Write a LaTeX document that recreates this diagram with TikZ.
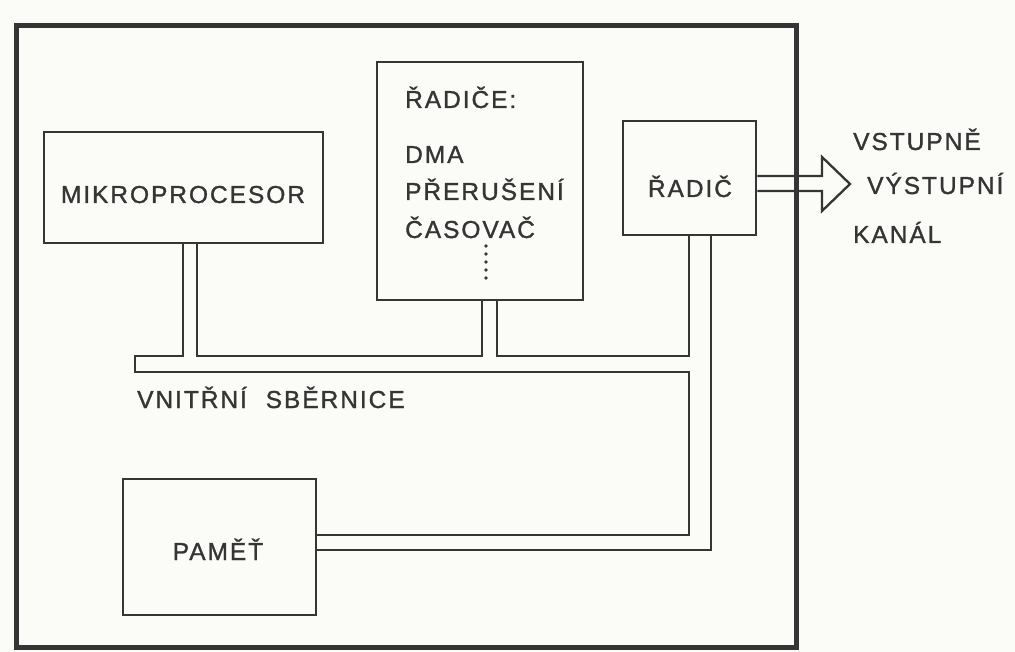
\documentclass[tikz,border=0pt]{standalone}
\usepackage{fontspec}
\setmainfont{Liberation Sans}[LetterSpace=8,FakeBold=1.2]
\usetikzlibrary{calc}
\definecolor{ink}{HTML}{353535}
\definecolor{paper}{HTML}{FBFBF8}
\begin{document}
\begin{tikzpicture}[x=1pt,y=-1pt,
  box/.style={draw=ink, line width=2.8pt, inner sep=0pt},
  lbl/.style={text=ink, font=\fontsize{24.5}{26}\selectfont, inner sep=0pt},
  bus/.style={draw=ink, line width=2.3pt, line join=miter},
  frame/.style={draw=ink, line width=5pt}]
\fill[paper] (0,0) rectangle (1015,652);
\useasboundingbox (0,0) rectangle (1015,652);
% outer frame
\draw[frame] (16,26) rectangle (796,647);
% boxes
\node[box, minimum width=279pt, minimum height=111pt] (mikro) at (183.5,187.5) {};
\node[box, minimum width=206pt, minimum height=238pt] (radice) at (480,181) {};
\node[box, minimum width=133pt, minimum height=114pt] (radic) at (689.5,178) {};
\node[box, minimum width=193pt, minimum height=136pt] (pamet) at (219.5,547) {};
% labels
\node[lbl, anchor=base] (tmikro) at (183,203) {MIKROPROCESOR};
\node[lbl, anchor=base west] (tradice) at (405,108) {ŘADIČE:};
\node[lbl, anchor=base west] (tdma) at (405,163) {DMA};
\node[lbl, anchor=base west] (tprer) at (405,200) {PŘERUŠENÍ};
\node[lbl, anchor=base west] (tcas) at (405,238) {ČASOVAČ};
\node[lbl, anchor=base] (tradic) at (690,197) {ŘADIČ};
\node[lbl, anchor=base] (tpamet) at (218,560) {PAMĚŤ};
\node[lbl, anchor=base west] (tbus) at (137,408) {VNITŘNÍ\hspace{10pt} SBĚRNICE};
\node[lbl, anchor=base west] (tvst) at (853,150) {VSTUPNĚ};
\node[lbl, anchor=base west] (tvyst) at (867,194) {VÝSTUPNÍ};
\node[lbl, anchor=base west] (tkanal) at (853,243) {KANÁL};
\foreach \yy in {246,254,262,270,278} \fill[ink] (486,\yy) circle (1.8pt);
% bus coordinates
\coordinate (a0) at (135,356);
\coordinate (a1) at (183,356);
\coordinate (a2) at (197,356);
\coordinate (a3) at (482,356);
\coordinate (a4) at (497,356);
\coordinate (a5) at (689,356);
\coordinate (b0) at (135,372);
\coordinate (b1) at (689,372);
\coordinate (b2) at (689,535);
\coordinate (c1) at (711,550);
% bus lines
\draw[bus] (mikro.south -| a1) -- (a1) -- (a0) -- (b0) -- (b1) -- (b2) -- (pamet.east |- b2);
\draw[bus] (mikro.south -| a2) -- (a2) -- (a3) -- (radice.south -| a3);
\draw[bus] (radice.south -| a4) -- (a4) -- (a5) -- (radic.south -| a5);
\draw[bus] (radic.south -| c1) -- (c1) -- (pamet.east |- c1);
% hollow arrow
\coordinate (h1) at (822,176);
\coordinate (h2) at (822,157);
\coordinate (tip) at (850,184);
\coordinate (h3) at (822,211);
\coordinate (h4) at (822,191);
\draw[bus] (radic.east |- h1) -- (h1) -- (h2) -- (tip) -- (h3) -- (h4) -- (radic.east |- h4);
\end{tikzpicture}
\end{document}
